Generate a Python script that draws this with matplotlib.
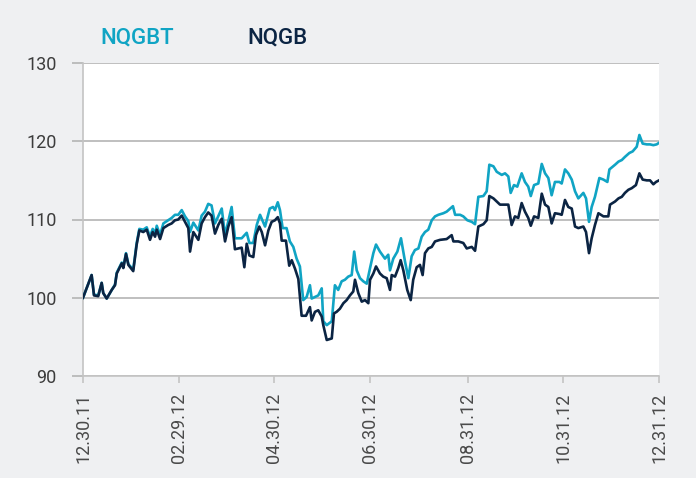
import matplotlib.pyplot as plt
import pandas as pd

# days since 12.30.11
nqgbt_days = [0, 5.5, 7.0, 9.7, 11.9, 12.9, 15.1, 18.3, 20.4, 21.5, 24.7, 25.7, 27.4, 28.9, 32.0,
              34.2, 35.9, 38.4, 40.6, 42.7, 44.4, 45.9, 47.0, 49.1, 51.2, 54.3, 56.5, 58.6, 60.7,
              62.9, 65.0, 67.1, 68.2, 70.3, 73.5, 75.6, 77.7, 79.8, 81.9, 84.1, 88.4, 90.5, 94.7,
              96.8, 101.1, 104.3, 106.0, 108.5, 110.7, 112.8, 116.0, 119.0, 121.1, 122.3, 124.1,
              125.5, 127.2, 129.7, 131.8, 134.0, 136.1, 138.2, 140.3, 142.5, 144.6, 145.7, 147.8,
              149.9, 152.1, 153.1, 155.3, 158.5, 160.5, 162.6, 164.8, 166.9, 169.0, 171.2, 172.8,
              174.4, 176.5, 178.6, 180.8, 182.9, 185.0, 186.7, 189.2, 192.4, 194.5, 195.6, 197.7,
              200.3, 202.6, 205.2, 207.3, 209.4, 211.5, 213.7, 215.8, 217.9, 220.0, 222.2, 224.3,
              226.4, 229.6, 231.7, 235.7, 237.1, 240.3, 242.3, 244.9, 247.7, 249.8, 251.9, 255.1,
              257.2, 258.9, 261.5, 263.6, 266.8, 268.9, 271.0, 272.5, 274.6, 276.7, 279.5, 281.6,
              283.7, 285.3, 287.4, 290.1, 292.3, 294.4, 296.5, 298.6, 300.7, 303.5, 305.0, 307.1,
              309.2, 311.4, 313.5, 315.6, 318.8, 320.5, 322.4, 324.1, 326.2, 329.0, 331.6, 334.1,
              335.4, 339.0, 341.2, 343.3, 345.3, 348.1, 350.2, 352.8, 354.5, 356.6, 359.2, 361.3,
              363.4, 365.5, 367]
nqgbt = [100.0, 102.9, 100.4, 100.3, 101.9, 100.6, 99.9, 101.0, 101.7, 103.2, 104.5, 103.9, 105.7,
         104.3, 103.6, 107.0, 108.8, 108.7, 109.0, 107.8, 108.8, 108.2, 109.2, 108.0, 109.5, 109.9,
         110.2, 110.6, 110.6, 111.2, 110.4, 109.8, 108.4, 109.6, 108.6, 110.5, 111.0, 112.0, 111.8,
         109.5, 111.4, 108.0, 111.6, 107.6, 107.6, 108.3, 107.0, 107.0, 109.3, 110.6, 109.1, 111.4,
         111.6, 111.2, 112.2, 111.2, 108.9, 108.9, 107.2, 106.5, 105.0, 104.0, 99.7, 100.1, 101.6,
         99.9, 100.1, 100.3, 101.2, 97.0, 96.5, 97.0, 101.6, 101.0, 102.1, 102.3, 102.7, 102.9,
         105.9, 103.5, 102.5, 102.1, 101.8, 103.8, 105.7, 106.8, 105.9, 105.0, 105.5, 103.5, 105.0,
         105.9, 107.6, 104.6, 102.5, 105.3, 106.1, 106.3, 107.8, 108.4, 108.7, 109.9, 110.4, 110.6,
         110.8, 111.0, 111.7, 110.6, 110.6, 110.4, 109.9, 109.7, 109.4, 112.9, 113.0, 113.6, 117.0,
         116.8, 116.1, 115.7, 115.9, 115.5, 113.4, 114.4, 114.2, 115.9, 114.8, 114.2, 113.0, 114.4,
         114.6, 117.1, 115.9, 115.3, 113.1, 114.8, 114.8, 114.6, 116.4, 115.9, 115.1, 113.6, 112.7,
         113.4, 112.7, 109.7, 111.6, 112.9, 115.3, 115.1, 114.8, 116.4, 117.0, 117.4, 117.6, 118.0,
         118.5, 118.7, 119.3, 120.8, 119.7, 119.6, 119.6, 119.5, 119.6, 119.8]

nqgb_days = [0, 5.5, 7.0, 9.7, 11.9, 12.9, 15.1, 18.3, 20.4, 21.5, 24.7, 25.7, 27.4, 28.9, 32.0,
             34.2, 35.9, 38.4, 40.6, 42.7, 44.4, 45.9, 47.0, 49.1, 51.2, 54.3, 56.5, 58.6, 60.7,
             62.9, 65.0, 67.1, 68.2, 70.3, 73.5, 75.6, 77.7, 79.8, 81.9, 84.1, 86.2, 88.4, 90.5,
             92.6, 94.7, 96.8, 99.0, 101.1, 102.8, 104.3, 106.0, 108.5, 110.2, 112.3, 113.9, 116.0,
             118.1, 120.2, 122.3, 124.1, 125.5, 126.6, 129.3, 131.4, 133.0, 135.1, 137.2, 139.3,
             142.1, 144.6, 145.7, 147.8, 149.9, 152.1, 153.1, 155.3, 158.5, 159.9, 161.6, 163.7,
             165.9, 168.0, 170.1, 172.2, 173.3, 175.4, 177.6, 179.7, 181.8, 182.9, 185.0, 186.7,
             189.2, 191.3, 193.5, 195.6, 196.7, 198.8, 200.9, 202.4, 204.1, 206.6, 208.8, 210.4,
             212.6, 214.7, 216.4, 217.9, 220.0, 222.2, 224.3, 227.5, 231.7, 234.9, 236.0, 239.1,
             242.3, 244.5, 247.7, 249.8, 251.9, 255.1, 257.2, 258.9, 261.5, 263.6, 265.7, 268.2,
             271.0, 273.1, 275.2, 277.3, 279.5, 281.6, 283.7, 285.3, 287.4, 290.1, 292.3, 294.4,
             296.5, 298.6, 300.7, 303.5, 305.0, 307.1, 309.2, 311.4, 313.5, 315.6, 318.8, 320.5,
             322.4, 324.1, 326.2, 328.4, 331.6, 334.7, 335.8, 339.0, 341.2, 343.3, 345.3, 347.5,
             349.6, 352.3, 354.5, 356.6, 359.2, 361.3, 363.4, 365.1, 367]
nqgb = [100.0, 102.9, 100.3, 100.2, 101.9, 100.6, 99.9, 101.0, 101.6, 103.1, 104.4, 103.8, 105.6,
        104.2, 103.4, 106.8, 108.6, 108.4, 108.7, 107.4, 108.4, 107.8, 108.7, 107.5, 108.9, 109.3,
        109.5, 109.9, 110.0, 110.5, 109.7, 108.9, 105.9, 108.4, 107.4, 109.5, 110.3, 110.9, 110.5,
        108.2, 109.3, 110.1, 107.2, 109.1, 110.3, 106.2, 106.3, 106.4, 103.9, 106.9, 105.4, 105.2,
        108.0, 109.1, 108.4, 106.7, 108.6, 109.7, 109.9, 110.3, 109.5, 107.3, 107.3, 104.1, 104.8,
        103.7, 102.4, 97.7, 97.7, 98.8, 97.1, 98.2, 98.4, 97.6, 96.5, 94.6, 94.8, 98.0, 98.2, 98.6,
        99.3, 99.7, 100.3, 100.8, 102.3, 100.6, 99.5, 99.7, 99.3, 102.3, 103.1, 104.0, 103.1, 102.7,
        102.5, 101.0, 102.9, 102.7, 103.8, 104.8, 103.5, 101.0, 99.7, 102.3, 103.9, 104.2, 102.9,
        105.7, 106.3, 106.5, 107.2, 107.4, 107.5, 108.0, 107.2, 107.2, 107.0, 106.3, 106.5, 106.0,
        109.1, 109.4, 109.9, 113.0, 112.7, 112.3, 111.9, 111.9, 111.9, 109.3, 110.4, 110.2, 112.1,
        111.0, 110.2, 109.2, 110.4, 110.2, 113.3, 111.9, 111.6, 109.5, 110.8, 110.7, 110.6, 112.5,
        111.6, 111.4, 109.1, 108.9, 109.1, 108.4, 105.7, 107.6, 109.3, 110.8, 110.4, 110.4, 111.9,
        112.3, 112.7, 112.9, 113.4, 113.8, 114.0, 114.4, 115.9, 115.1, 115.0, 115.0, 114.5, 114.8,
        115.0]

tick_dates = ["2011-12-30", "2012-02-29", "2012-04-30", "2012-06-30",
              "2012-08-31", "2012-10-31", "2012-12-31"]
tick_labels = ["12.30.11", "02.29.12", "04.30.12", "06.30.12", "08.31.12", "10.31.12", "12.31.12"]
yticks = [90, 100, 110, 120, 130]

start = pd.Timestamp("2011-12-30")
x_t = start + pd.to_timedelta(nqgbt_days, unit="D")
x_b = start + pd.to_timedelta(nqgb_days, unit="D")

bg = "#eff0f2"
grid_col = "#b4b4b4"
cyan = "#10a4c4"
navy = "#0b2443"

plt.rcParams["font.family"] = ["Roboto", "DejaVu Sans"]

fig = plt.figure(figsize=(6.96, 4.78), dpi=100, facecolor=bg)
ax = fig.add_axes([83 / 696, 1 - 376 / 478, 576 / 696, 313 / 478])
ax.set_facecolor("white")

ax.plot(x_t, nqgbt, color=cyan, lw=1.9, label="NQGBT", zorder=3)
ax.plot(x_b, nqgb, color=navy, lw=1.9, label="NQGB", zorder=4)

ax.set_ylim(90, 130)
ax.set_yticks(yticks)
ax.set_xlim(start, pd.Timestamp("2012-12-31"))
ax.set_xticks(pd.to_datetime(tick_dates))
ax.set_xticklabels(tick_labels, rotation=90)

ax.grid(axis="y", color=grid_col, lw=1.2, zorder=1)
ax.set_axisbelow(True)
for side in ["top", "right"]:
    ax.spines[side].set_visible(False)
for side in ["left", "bottom"]:
    ax.spines[side].set_color("#c4c4c4")
    ax.spines[side].set_linewidth(1.2)

ax.tick_params(axis="y", length=8, width=1.2, color=grid_col, pad=11,
               labelsize=13, labelcolor="#3c3c3c")
ax.tick_params(axis="x", length=5, width=1.2, color="#c4c4c4", pad=7,
               labelsize=13, labelcolor="#4a4a4a")

leg = ax.legend(loc="lower left", bbox_to_anchor=(100 / 696, 1 - 48 / 478),
                bbox_transform=fig.transFigure, ncol=2, frameon=False,
                handlelength=0, handletextpad=0, columnspacing=3.3,
                borderpad=0, borderaxespad=0,
                prop={"family": "Roboto", "weight": "medium", "size": 16})
for h in leg.legend_handles:
    h.set_visible(False)
for txt, col in zip(leg.get_texts(), [cyan, navy]):
    txt.set_color(col)

fig.savefig("out.png", dpi=100, facecolor=bg)
